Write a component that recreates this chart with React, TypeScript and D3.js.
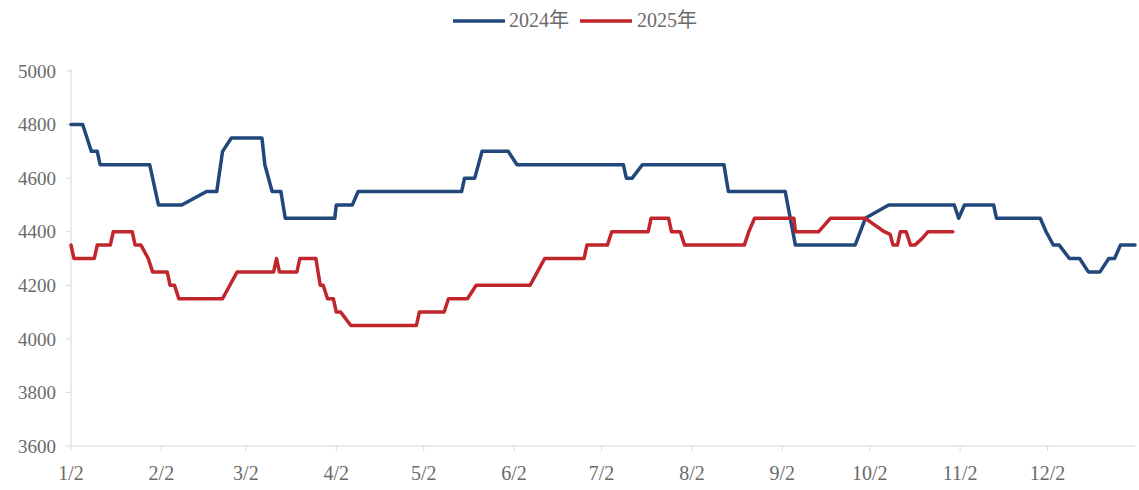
import React from "react";
import * as d3 from "d3";

// x = day index from Jan 2 (0) through Dec 31 (364)
const tickDays = [0, 31, 60, 91, 121, 152, 182, 213, 244, 274, 305, 335];
const tickLabels = ["1/2", "2/2", "3/2", "4/2", "5/2", "6/2", "7/2", "8/2", "9/2", "10/2", "11/2", "12/2"];
const yTicks = [3600, 3800, 4000, 4200, 4400, 4600, 4800, 5000];

const seriesNames = ["2024年", "2025年"];

const days2024 = [0, 4, 5.5, 7, 9, 10, 27, 30, 38, 46.5, 50, 52, 55, 65.5, 66.5, 69, 72, 73.5, 90.5, 91, 96.5, 98.5, 134, 135, 138.5, 141, 150, 153, 189.5, 190.5, 192.5, 196, 224, 225.5, 245, 248.5, 269, 272.5, 280.5, 303, 304.5, 306.5, 316.5, 317.5, 332.5, 334.5, 337, 339, 342.5, 346, 349, 353, 356, 358, 360, 365];
const values2024 = [4800, 4800, 4750, 4700, 4700, 4650, 4650, 4500, 4500, 4550, 4550, 4700, 4750, 4750, 4650, 4550, 4550, 4450, 4450, 4500, 4500, 4550, 4550, 4600, 4600, 4700, 4700, 4650, 4650, 4600, 4600, 4650, 4650, 4550, 4550, 4350, 4350, 4450, 4500, 4500, 4450, 4500, 4500, 4450, 4450, 4400, 4350, 4350, 4300, 4300, 4250, 4250, 4300, 4300, 4350, 4350];

const days2025 = [0, 1, 8, 9, 13.5, 14.5, 21, 22, 24, 26.5, 28, 33, 34, 35.5, 37, 52, 54.5, 57, 69.5, 70.5, 71.5, 77.5, 78.5, 84, 85.5, 86.5, 88, 90, 91, 92.5, 96, 118.5, 119.5, 128, 129.5, 136, 139, 157.5, 160, 162.5, 176, 177, 184, 185.5, 198, 199, 205, 206, 209, 210.5, 231, 232.5, 234.5, 248, 248.5, 256.5, 260.5, 272.5, 279, 281, 282, 283.5, 284.5, 286.5, 288, 289.5, 292, 294, 302.5];
const values2025 = [4350, 4300, 4300, 4350, 4350, 4400, 4400, 4350, 4350, 4300, 4250, 4250, 4200, 4200, 4150, 4150, 4200, 4250, 4250, 4300, 4250, 4250, 4300, 4300, 4200, 4200, 4150, 4150, 4100, 4100, 4050, 4050, 4100, 4100, 4150, 4150, 4200, 4200, 4250, 4300, 4300, 4350, 4350, 4400, 4400, 4450, 4450, 4400, 4400, 4350, 4350, 4400, 4450, 4450, 4400, 4400, 4450, 4450, 4400, 4390, 4350, 4350, 4400, 4400, 4350, 4350, 4375, 4400, 4400];

const colors = ["#21477b", "#c0262c"];

const W = 1139;
const H = 490;
const X0 = 71;
const X1 = 1135;
const Y0 = 446;
const Y1 = 71;

export default function App() {
  const x = d3.scaleLinear().domain([0, 365]).range([X0, X1]);
  const y = d3.scaleLinear().domain([3600, 5000]).range([Y0, Y1]);
  const line = d3
    .line<[number, number]>()
    .x((d) => x(d[0]))
    .y((d) => y(d[1]));

  const s2024: [number, number][] = days2024.map((d, i) => [d, values2024[i]]);
  const s2025: [number, number][] = days2025.map((d, i) => [d, values2025[i]]);

  const textColor = "#6a6a6a";
  const font = "'Liberation Serif', 'Times New Roman', 'Noto Sans CJK SC', serif";

  return (
    <div style={{ position: "absolute", left: 0, top: 0 }}>
      <svg width={W} height={H} style={{ display: "block", background: "#fff" }} fontFamily={font}>
        {/* legend */}
        <line x1={453} x2={505} y1={21} y2={21} stroke={colors[0]} strokeWidth={3.5} />
        <text x={509} y={27} fontSize={20} fill={textColor}>{seriesNames[0]}</text>
        <line x1={580} x2={632} y1={21} y2={21} stroke={colors[1]} strokeWidth={3.5} />
        <text x={637} y={27} fontSize={20} fill={textColor}>{seriesNames[1]}</text>

        {/* y axis */}
        <line x1={X0} x2={X0} y1={Y1 - 2} y2={Y0} stroke="#d9d9d9" strokeWidth={1} />
        {yTicks.map((t) => (
          <g key={t}>
            <line x1={X0 - 5} x2={X0} y1={y(t)} y2={y(t)} stroke="#d9d9d9" />
            <text x={56} y={y(t)} dy="0.35em" textAnchor="end" fontSize={19} fill={textColor}>
              {t}
            </text>
          </g>
        ))}

        {/* x axis */}
        <line x1={X0} x2={X1} y1={Y0} y2={Y0} stroke="#d9d9d9" strokeWidth={1} />
        {tickDays.map((d, i) => (
          <g key={d}>
            <line x1={x(d)} x2={x(d)} y1={Y0} y2={Y0 + 5} stroke="#d9d9d9" />
            <text x={x(d)} y={480} textAnchor="middle" fontSize={20} fill={textColor}>
              {tickLabels[i]}
            </text>
          </g>
        ))}

        {/* series */}
        <path d={line(s2024) || ""} fill="none" stroke={colors[0]} strokeWidth={3.5} strokeLinejoin="round" strokeLinecap="round" />
        <path d={line(s2025) || ""} fill="none" stroke={colors[1]} strokeWidth={3.5} strokeLinejoin="round" strokeLinecap="round" />
      </svg>
    </div>
  );
}
